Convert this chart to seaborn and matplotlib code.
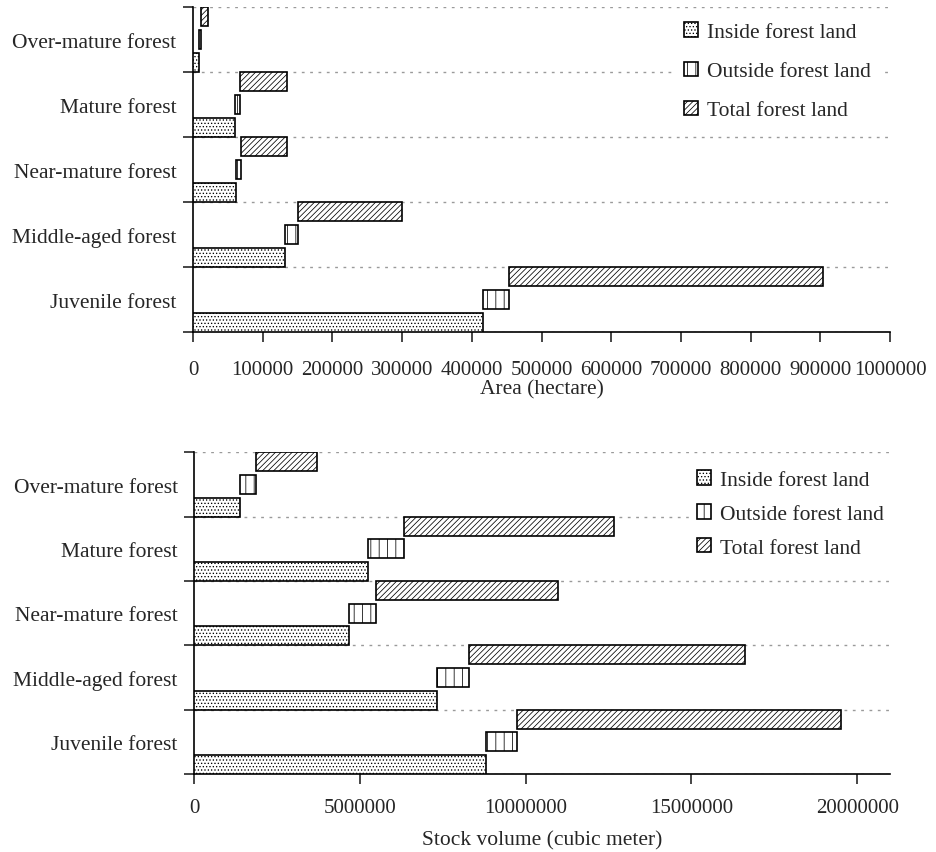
import numpy as np
import matplotlib
matplotlib.use('Agg')
import matplotlib.pyplot as plt
import seaborn as sns

# forest age groups, bottom to top
stages = ['Juvenile forest', 'Middle-aged forest', 'Near-mature forest',
          'Mature forest', 'Over-mature forest']
series_labels = ['Inside forest land', 'Outside forest land', 'Total forest land']

# area (hectare)
area_inside = [416500, 131600, 61700, 60300, 8600]
area_outside = [36400, 19000, 6700, 7100, 2900]
area_total = [451400, 149700, 66900, 67000, 10000]
area_ticks = [0, 100000, 200000, 300000, 400000, 500000, 600000, 700000, 800000, 900000, 1000000]

# stock volume (cubic meter)
vol_inside = [8810000, 7310000, 4670000, 5230000, 1390000]
vol_outside = [940000, 990000, 820000, 1110000, 460000]
vol_total = [9760000, 8300000, 5470000, 6310000, 1840000]
vol_ticks = [0, 5000000, 10000000, 15000000, 20000000]

sns.set_style('ticks')
plt.rcParams['font.family'] = ['Liberation Serif', 'DejaVu Serif']
plt.rcParams['hatch.linewidth'] = 0.55
plt.rcParams['axes.edgecolor'] = 'black'


def draw_panel(ax, inside, outside, total, xmax, xticks, xlabel,
               leg_anchor, leg_spacing, tickpad, labelpad):
    y = np.arange(len(stages))
    inside = np.array(inside)
    outside = np.array(outside)
    total = np.array(total)
    h = 0.295
    off = 0.5 - h / 2
    b1 = ax.barh(y - off, inside, height=h, color='white', edgecolor='black',
                 hatch='.....', lw=1.2, zorder=3, label=series_labels[0])
    b2 = ax.barh(y, outside, left=inside, height=h, color='white', edgecolor='black',
                 hatch='||', lw=1.2, zorder=3, label=series_labels[1])
    b3 = ax.barh(y + off, total, left=inside + outside, height=h, color='white',
                 edgecolor='black', hatch='//////', lw=1.2, zorder=3, label=series_labels[2])

    bounds = np.arange(len(stages) + 1) - 0.5
    for b in bounds:
        ax.axhline(b, color='#9a9a9a', ls=(0, (2, 4)), lw=1, zorder=1)

    ax.set_ylim(-0.5, len(stages) - 0.5)
    ax.set_yticks(y)
    ax.set_yticklabels(stages)
    ax.set_yticks(bounds, minor=True)
    ax.tick_params(axis='y', which='major', length=0, pad=12, labelsize=15.5)
    ax.tick_params(axis='y', which='minor', length=7, width=1.2, direction='out')

    ax.set_xlim(0, xmax)
    ax.set_xticks(xticks)
    ax.ticklabel_format(style='plain', axis='x')
    ax.tick_params(axis='x', length=7, width=1.2, direction='out', labelsize=15, pad=tickpad)
    ax.set_xlabel(xlabel, fontsize=15.5, labelpad=labelpad)

    for s in ['left', 'bottom']:
        ax.spines[s].set_linewidth(1.2)
    sns.despine(ax=ax)

    leg = ax.legend(handles=[b1, b2, b3], loc='upper left', bbox_to_anchor=leg_anchor,
                    frameon=True, facecolor='white', edgecolor='white', framealpha=1,
                    fancybox=False, fontsize=15.5, handlelength=0.65, handleheight=0.65,
                    handletextpad=0.4, labelspacing=leg_spacing, borderpad=0.4)
    leg.set_zorder(5)


fig = plt.figure(figsize=(9.37, 8.53), dpi=100)
ax1 = fig.add_axes([0.206, 0.6096, 0.7439, 0.381])
ax2 = fig.add_axes([0.2074, 0.0914, 0.7428, 0.3771])

draw_panel(ax1, area_inside, area_outside, area_total, 1000000, area_ticks,
           'Area (hectare)', (0.677, 1.012), 0.9, 13, 0)
draw_panel(ax2, vol_inside, vol_outside, vol_total, 21000000, vol_ticks,
           'Stock volume (cubic meter)', (0.695, 1.004), 0.65, 10, 10)

fig.savefig('out.png', dpi=100)
